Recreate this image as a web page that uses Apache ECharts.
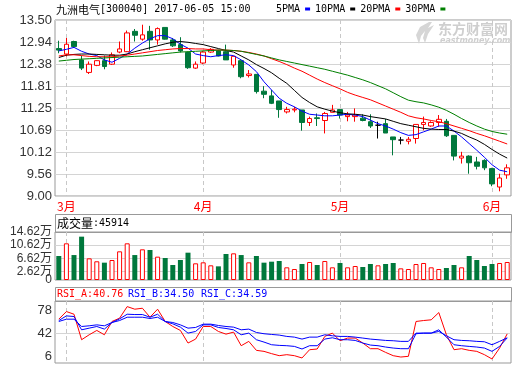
<!DOCTYPE html>
<html><head><meta charset="utf-8">
<script src="https://cdn.jsdelivr.net/npm/echarts@6/dist/echarts.min.js"></script>
<style>html,body{margin:0;padding:0;background:#fff}#c{width:520px;height:365px}</style>
</head><body><div id="c"></div><script>
const dates = ['2017-02-28',
'2017-03-01','2017-03-02','2017-03-03','2017-03-06','2017-03-07','2017-03-08','2017-03-09','2017-03-10','2017-03-13','2017-03-14','2017-03-15','2017-03-16','2017-03-17','2017-03-20','2017-03-21','2017-03-22','2017-03-23','2017-03-24',
'2017-04-05','2017-04-06','2017-04-07','2017-04-10','2017-04-11','2017-04-12','2017-04-13','2017-04-14','2017-04-17','2017-04-18','2017-04-19','2017-04-20','2017-04-21','2017-04-24','2017-04-25','2017-04-26','2017-04-27','2017-04-28',
'2017-05-02','2017-05-03','2017-05-04','2017-05-05','2017-05-08','2017-05-09','2017-05-10','2017-05-11','2017-05-12','2017-05-15','2017-05-16','2017-05-17','2017-05-18','2017-05-19','2017-05-22','2017-05-23','2017-05-24','2017-05-25','2017-05-26','2017-05-31',
'2017-06-01','2017-06-02','2017-06-05'];
const openP = [12.77,12.63,12.95,12.48,12.16,12.34,12.46,12.37,12.68,12.69,13.21,13.01,13.21,12.99,13.31,12.99,12.87,12.67,12.27,12.40,12.68,12.71,12.69,12.35,12.46,12.08,12.11,11.68,11.56,11.43,11.15,11.20,11.20,10.88,11.00,10.93,11.14,11.21,11.03,11.03,10.99,10.90,10.81,10.85,10.51,10.43,10.40,10.47,10.83,10.79,10.88,10.91,10.55,9.97,10.02,9.87,9.91,9.70,9.23,9.54];
const closeP = [12.73,12.88,12.82,12.27,12.37,12.46,12.31,12.61,12.76,13.17,13.11,13.12,12.99,13.28,13.01,12.84,12.71,12.28,12.37,12.68,12.75,12.58,12.48,12.57,12.05,12.12,11.67,11.60,11.37,11.21,11.21,11.22,10.88,10.98,10.98,11.11,11.20,11.07,11.07,11.07,10.93,10.79,10.81,10.61,10.44,10.43,10.45,10.83,10.88,10.88,10.96,10.54,10.02,10.02,9.85,9.76,9.72,9.31,9.46,9.72];
const lowP = [12.65,12.57,12.81,12.22,12.12,12.32,12.24,12.35,12.65,12.68,12.95,12.97,12.74,12.87,13.00,12.81,12.67,12.25,12.25,12.37,12.66,12.57,12.48,12.28,12.01,12.03,11.62,11.50,11.35,11.00,11.11,11.14,10.67,10.79,10.79,10.60,11.14,10.98,10.91,10.90,10.91,10.74,10.47,10.61,10.04,10.32,10.32,10.34,10.68,10.77,10.77,10.51,9.91,9.83,9.57,9.68,9.66,9.25,9.12,9.44];
const highP = [12.97,13.04,12.97,12.59,12.44,12.47,12.59,12.67,12.95,13.23,13.27,13.38,13.35,13.31,13.31,13.04,13.06,12.69,12.44,12.71,12.78,12.74,12.87,12.57,12.46,12.22,12.11,11.81,11.71,11.43,11.28,11.28,11.20,11.03,11.11,11.15,11.33,11.21,11.15,11.24,11.09,11.09,10.90,10.97,10.51,10.51,10.51,10.83,11.03,10.91,11.07,10.97,10.55,10.13,10.04,10.00,9.94,9.72,9.57,9.81];
const ma5 = [12.71,12.75,12.80,12.70,12.63,12.59,12.48,12.42,12.52,12.63,12.78,12.91,13.02,13.10,13.10,13.02,12.88,12.78,12.63,12.59,12.56,12.59,12.61,12.59,12.48,12.35,12.18,11.92,11.71,11.50,11.37,11.28,11.17,11.09,11.07,11.05,11.05,11.07,11.09,11.07,11.03,10.94,10.85,10.79,10.71,10.62,10.55,10.57,10.64,10.71,10.79,10.79,10.66,10.51,10.34,10.17,9.99,9.80,9.66,9.62];
const ma10 = [12.54,12.60,12.62,12.63,12.63,12.62,12.61,12.60,12.60,12.63,12.69,12.74,12.79,12.84,12.89,12.93,12.95,12.93,12.90,12.87,12.82,12.77,12.72,12.68,12.58,12.48,12.36,12.26,12.15,12.01,11.88,11.70,11.52,11.39,11.28,11.22,11.17,11.13,11.10,11.09,11.07,11.03,11.00,10.97,10.91,10.85,10.81,10.77,10.73,10.71,10.70,10.70,10.66,10.60,10.51,10.43,10.32,10.19,10.07,9.97];
const ma20 = [12.58,12.61,12.61,12.59,12.57,12.56,12.56,12.56,12.58,12.60,12.63,12.66,12.69,12.72,12.74,12.76,12.77,12.77,12.76,12.76,12.74,12.73,12.73,12.72,12.70,12.67,12.63,12.58,12.51,12.44,12.36,12.27,12.19,12.09,11.99,11.90,11.82,11.74,11.65,11.58,11.52,11.46,11.38,11.30,11.22,11.14,11.05,11.00,10.97,10.93,10.90,10.85,10.79,10.73,10.67,10.60,10.54,10.47,10.40,10.33];
const ma30 = [12.45,12.47,12.49,12.50,12.51,12.52,12.53,12.54,12.55,12.56,12.57,12.58,12.60,12.62,12.64,12.66,12.68,12.69,12.70,12.71,12.72,12.73,12.73,12.72,12.70,12.66,12.62,12.58,12.53,12.48,12.44,12.40,12.36,12.32,12.28,12.24,12.19,12.14,12.09,12.03,11.97,11.90,11.82,11.74,11.64,11.54,11.45,11.41,11.38,11.33,11.27,11.19,11.09,10.98,10.88,10.79,10.71,10.65,10.61,10.58];
const volume = [7.31,11.17,7.60,13.20,6.60,5.70,5.28,6.09,8.73,11.17,7.60,9.34,9.14,7.11,6.70,4.57,6.09,8.32,5.08,5.38,4.47,4.16,7.92,8.12,7.60,5.38,7.31,5.28,5.58,5.79,3.86,3.35,4.87,5.48,4.57,5.79,3.86,5.18,3.86,4.26,3.96,4.87,4.47,4.87,5.18,3.55,3.35,4.87,5.18,3.86,3.35,3.66,4.57,3.86,7.31,6.09,4.26,4.87,5.18,5.48];
const rsiA = [63.9,75.9,71.7,31.6,39.4,46.2,39.4,60.3,65.5,83.7,79.6,81.1,67.0,79.6,60.3,52.4,46.2,26.4,32.6,52.4,52.4,44.6,40.4,43.6,22.2,29.0,14.9,13.3,9.7,6.5,8.1,6.5,2.9,15.9,17.0,36.8,42.0,30.0,34.2,34.2,26.4,17.5,17.5,11.7,6.5,4.4,5.5,60.3,61.8,62.9,74.3,39.4,15.9,17.5,14.9,13.3,8.1,1.3,18.5,40.76];
const rsiB = [61.8,69.1,68.1,47.2,49.8,52.4,48.3,58.7,64.4,71.7,71.2,71.2,67.0,71.7,60.3,56.6,51.4,42.0,44.6,55.0,55.0,50.9,49.3,47.2,39.4,42.0,31.6,27.9,23.7,22.7,22.2,21.1,17.0,22.2,22.2,32.6,34.7,31.6,31.6,30.5,26.4,23.2,22.2,20.1,18.5,17.5,17.5,41.0,42.0,42.0,47.2,35.7,23.7,22.2,21.1,20.1,18.5,13.3,21.1,34.50];
const rsiC = [60.3,63.9,63.9,52.4,53.5,55.0,53.5,58.7,61.8,67.0,67.0,67.0,65.0,67.0,60.3,58.7,55.0,49.8,50.9,56.1,56.1,54.0,52.4,51.4,47.2,48.3,43.0,41.0,39.9,38.9,36.8,35.7,32.6,35.7,35.7,39.4,37.8,36.8,36.8,35.7,34.2,32.6,31.6,30.5,30.0,29.0,29.0,42.0,42.0,42.0,44.6,37.8,31.6,30.5,30.0,29.0,28.4,23.7,29.0,34.59];
const priceTicks = ['9.00','9.56','10.12','10.69','11.25','11.81','12.38','12.94','13.50'];
const volTicks = [0,2.62,6.62,10.62,14.62];
const rsiTicks = [6,42,78];
const maNames = ['5PMA','10PMA','20PMA','30PMA'];
const volHeader = '45914';
const rsiHeader = ['40.76','34.50','34.59'];

const UP = '#ff0000', DOWN = '#00783c', GRIDC = '#d4d4d4', BORDER = '#999';
const isMonthStart = i => i > 0 && dates[i].slice(5,7) !== dates[i-1].slice(5,7);
const pMin = +priceTicks[0], pMax = +priceTicks[priceTicks.length-1];
const pInt = (pMax - pMin) / (priceTicks.length - 1);

const kData = dates.map((d,i) => [openP[i], closeP[i], lowP[i], highP[i]]);
const volData = volume.map((v,i) => {
  const up = closeP[i] >= openP[i];
  return {value: v, itemStyle: up ? {color:'#fff', borderColor: UP, borderWidth: 1} : {color: DOWN}};
});

const xBase = (gi, showLabel) => ({
  type:'category', gridIndex: gi, data: dates, boundaryGap: true,
  axisLine:{show:false}, axisTick:{show:false},
  axisLabel: showLabel ? {interval:(i)=>isMonthStart(i), formatter:(v)=>parseInt(v.slice(5,7),10)+'月', color:'#ff0000', fontSize:12, margin:4, fontFamily:'"Noto Sans CJK SC"'} : {show:false},
  splitLine:{show:true, interval:(i)=>isMonthStart(i), alignWithLabel:true, lineStyle:{type:[4,3], color:'#c8c8c8', width:1}}
});
const lblStyle = {color:'#333', fontSize:13, fontFamily:'"Liberation Sans"', margin:3};
const volLbl = Object.assign({}, lblStyle, {fontSize:12, fontFamily:'"Liberation Sans", "Noto Sans CJK SC"'});
const volFmt = (v)=> v===0 ? '0' : v.toFixed(2)+'万';

const chart = echarts.init(document.getElementById('c'), null, {renderer:'canvas'});
chart.setOption({
  animation:false,
  backgroundColor:'#fff',
  grid:[
    {left:55, width:456, top:20, height:176, show:true, borderColor:BORDER, borderWidth:1, outerBoundsMode:'none'},
    {left:55, width:456, top:232, height:48, show:true, borderColor:BORDER, borderWidth:1, outerBoundsMode:'none'},
    {left:55, width:456, top:301, height:62, show:true, borderColor:BORDER, borderWidth:1, outerBoundsMode:'none'}
  ],
  legend:{data:maNames, left:276, top:4, padding:0, icon:'rect', itemWidth:5, itemHeight:3, itemGap:5, align:'right',
    textStyle:{fontFamily:'"DejaVu Sans Mono"', fontSize:10, color:'#000', padding:0}, selectedMode:false},
  xAxis:[xBase(0,true), xBase(1,false), xBase(2,false)],
  yAxis:[
    {type:'value', gridIndex:0, min:pMin, max:pMax, interval:pInt, axisLine:{show:false}, axisTick:{show:false},
      axisLabel:Object.assign({formatter:(v)=>priceTicks[Math.round((v-pMin)/pInt)]}, lblStyle),
      splitLine:{show:true, lineStyle:{color:GRIDC}}},
    {type:'value', gridIndex:1, min:volTicks[0], max:volTicks[volTicks.length-1], axisLine:{show:false},
      axisTick:{show:false, customValues:volTicks.slice(1,-1)},
      axisLabel:Object.assign({customValues:volTicks.slice(1), formatter:volFmt}, volLbl),
      splitLine:{show:true, lineStyle:{color:GRIDC}}},
    {type:'value', gridIndex:2, min:-5, max:92.5, axisLine:{show:false},
      axisTick:{show:false, customValues:[42]},
      axisLabel:Object.assign({customValues:rsiTicks, formatter:(v)=>String(v)}, lblStyle),
      splitLine:{show:true, lineStyle:{color:GRIDC}}},
    {type:'value', gridIndex:1, position:'left', offset:0, min:volTicks[0], max:volTicks[volTicks.length-1], axisLine:{show:false},
      axisTick:{show:false}, splitLine:{show:false},
      axisLabel:Object.assign({customValues:volTicks.slice(0,1), formatter:volFmt}, volLbl)}
  ],
  series:[
    {type:'candlestick', name:'K', xAxisIndex:0, yAxisIndex:0, data:kData, barWidth:5,
      itemStyle:{color:'#fff', color0:DOWN, borderColor:UP, borderColor0:DOWN, borderColorDoji:'#000', borderWidth:1}},
    {type:'line', name:maNames[0], xAxisIndex:0, yAxisIndex:0, data:ma5, symbol:'none', lineStyle:{width:1, color:'#0000ff'}, itemStyle:{color:'#0000ff'}},
    {type:'line', name:maNames[1], xAxisIndex:0, yAxisIndex:0, data:ma10, symbol:'none', lineStyle:{width:1, color:'#000'}, itemStyle:{color:'#000'}},
    {type:'line', name:maNames[2], xAxisIndex:0, yAxisIndex:0, data:ma20, symbol:'none', lineStyle:{width:1, color:'#ff0000'}, itemStyle:{color:'#ff0000'}},
    {type:'line', name:maNames[3], xAxisIndex:0, yAxisIndex:0, data:ma30, symbol:'none', lineStyle:{width:1, color:'#008000'}, itemStyle:{color:'#008000'}},
    {type:'bar', name:'VOL', xAxisIndex:1, yAxisIndex:1, data:volData, barWidth:5},
    {type:'line', name:'RSI_A', xAxisIndex:2, yAxisIndex:2, data:rsiA, symbol:'none', lineStyle:{width:1, color:'#ff0000'}},
    {type:'line', name:'RSI_B', xAxisIndex:2, yAxisIndex:2, data:rsiB, symbol:'none', lineStyle:{width:1, color:'#0000ff'}},
    {type:'line', name:'RSI_C', xAxisIndex:2, yAxisIndex:2, data:rsiC, symbol:'none', lineStyle:{width:1, color:'#0000ff'}}
  ],
  graphic:[
    {type:'text', left:56, top:4, style:{text:'{c|九洲电气}{a|[300040] 2017-06-05 15:00}', rich:{c:{fontFamily:'"Noto Sans CJK SC"', fontSize:11, fill:'#000'}, a:{fontFamily:'"DejaVu Sans Mono"', fontSize:10, fill:'#000'}}}},
    {type:'rect', shape:{x:55.5, y:214.5, width:456, height:18}, style:{fill:'none', stroke:BORDER, lineWidth:1}},
    {type:'text', left:57, top:217, style:{text:'{c|成交量}{a|:'+volHeader+'}', rich:{c:{fontFamily:'"Noto Sans CJK SC"', fontSize:12, fill:'#000'}, a:{fontFamily:'"DejaVu Sans Mono"', fontSize:10, fill:'#000'}}}},
    {type:'rect', shape:{x:55.5, y:287.5, width:456, height:14}, style:{fill:'none', stroke:BORDER, lineWidth:1}},
    {type:'text', left:57, top:289, style:{text:'RSI_A:'+rsiHeader[0], fontFamily:'"DejaVu Sans Mono"', fontSize:10, fill:'#ff0000'}},
    {type:'text', left:128, top:289, style:{text:'RSI_B:'+rsiHeader[1], fontFamily:'"DejaVu Sans Mono"', fontSize:10, fill:'#0000ff'}},
    {type:'text', left:201, top:289, style:{text:'RSI_C:'+rsiHeader[2], fontFamily:'"DejaVu Sans Mono"', fontSize:10, fill:'#0000ff'}},
    {type:'polygon', shape:{points:[[429,22],[420,27],[416,35],[419,44],[421,36],[425,31],[423,38],[425,43],[428,34],[434,25],[428,28],[432,22]]}, style:{fill:'#d6d6d6'}},
    {type:'text', left:438, top:22, style:{text:'东方财富网', fontFamily:'"Noto Sans CJK SC"', fontWeight:'bold', fontSize:14, fill:'#cfcfcf'}},
    {type:'text', left:440, top:37, style:{text:'eastmoney.com', fontFamily:'"DejaVu Sans"', fontWeight:'bold', fontStyle:'italic', fontSize:8, fill:'#cfcfcf'}}
  ]
});
</script></body></html>
